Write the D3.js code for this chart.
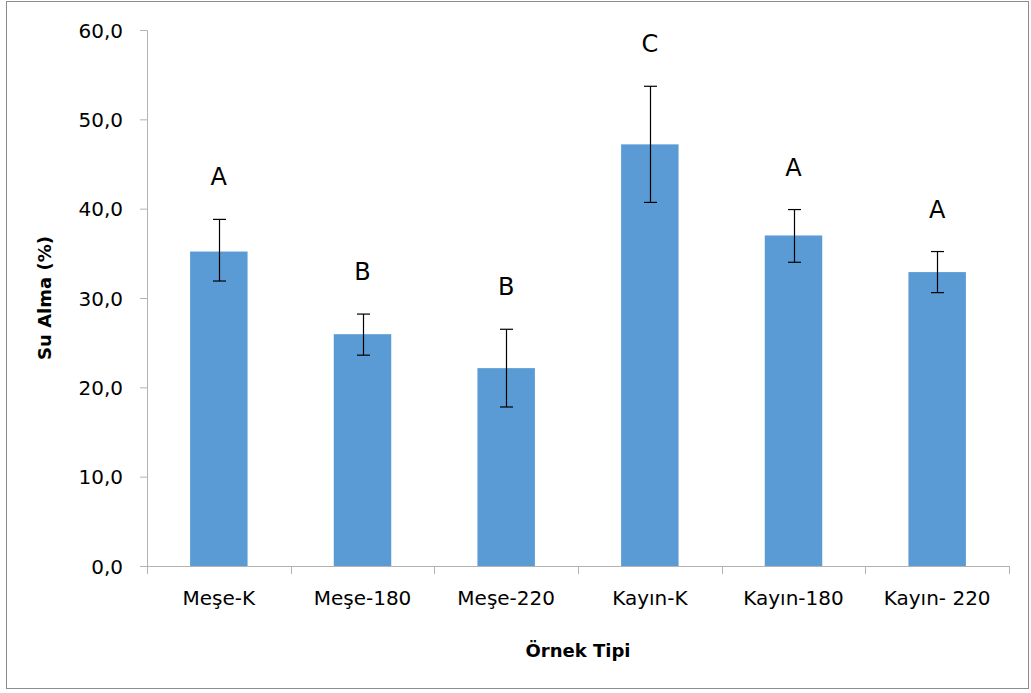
<!DOCTYPE html>
<html>
<head>
<meta charset="utf-8">
<script src="https://cdn.jsdelivr.net/npm/d3@7"></script>
<style>
  body { margin: 0; background: #fff; }
  svg text { font-family: "DejaVu Sans", sans-serif; fill: #000; }
</style>
</head>
<body>
<svg></svg>
<script>
const categories = ['Meşe-K', 'Meşe-180', 'Meşe-220', 'Kayın-K', 'Kayın-180', 'Kayın- 220'];
const values = [35.2, 25.95, 22.15, 47.2, 37.0, 32.9];
const errUp = [3.6, 2.25, 4.35, 6.5, 2.9, 2.3];
const errDown = [3.3, 2.35, 4.35, 6.5, 3.0, 2.3];
const groups = ['A', 'B', 'B', 'C', 'A', 'A'];
const yTicks = [0, 10, 20, 30, 40, 50, 60];

const SVGsize = {w: 1031, h: 693};
const margins = {t: 30, r: 22, b: 127, l: 147};
const size = {
    w: SVGsize.w - margins.l - margins.r,
    h: SVGsize.h - margins.t - margins.b
};

const svg = d3.select('svg')
    .attr('width', SVGsize.w)
    .attr('height', SVGsize.h);

// outer frame
svg.append('rect')
    .attr('x', 6.5).attr('y', 1.5)
    .attr('width', 1022).attr('height', 687)
    .attr('fill', 'none')
    .attr('stroke', '#8c8c8c');

const containerG = svg.append('g')
    .attr('transform', `translate(${margins.l}, ${margins.t})`);

const scaleY = d3.scaleLinear()
    .domain([0, 60])
    .range([size.h, 0]);

const scaleX = d3.scaleBand()
    .domain(categories)
    .range([0, size.w])
    .paddingInner(0.6)
    .paddingOuter(0.3);

// y axis
const axisY = d3.axisLeft(scaleY)
    .tickValues(yTicks)
    .tickSize(7)
    .tickPadding(17)
    .tickFormat(d => d.toFixed(1).replace('.', ','));
const axisYG = containerG.append('g')
    .classed('axis-y', true)
    .call(axisY);
axisYG.selectAll('path, line').attr('stroke', '#b3b3b3');
axisYG.select('path').attr('d', `M-7,0.5H0.5V${size.h}`);
axisYG.selectAll('text')
    .style('font-size', '20px')
    .attr('dy', '0.36em');

// x axis
const axisX = d3.axisBottom(scaleX).tickSize(0).tickPadding(25);
const axisXG = containerG.append('g')
    .classed('axis-x', true)
    .attr('transform', `translate(0, ${size.h})`)
    .call(axisX);
axisXG.select('path').attr('stroke', '#b3b3b3').attr('d', `M0.5,0.5H${size.w + 0.5}`);
axisXG.selectAll('text').style('font-size', '20px');

const bounds = d3.range(categories.length + 1).map(i => i * scaleX.step());
axisXG.selectAll('line.bound')
    .data(bounds)
    .enter()
    .append('line')
    .classed('bound', true)
    .attr('x1', d => Math.round(d) + 0.5)
    .attr('x2', d => Math.round(d) + 0.5)
    .attr('y1', 0)
    .attr('y2', 8)
    .attr('stroke', '#b3b3b3');

// bars
const data = categories.map((c, i) => ({
    cat: c, v: values[i], up: values[i] + errUp[i], down: values[i] - errDown[i], g: groups[i]
}));

containerG.selectAll('rect.bar')
    .data(data)
    .enter()
    .append('rect')
    .classed('bar', true)
    .attr('x', d => scaleX(d.cat))
    .attr('width', scaleX.bandwidth())
    .attr('y', d => scaleY(d.v))
    .attr('height', d => size.h - scaleY(d.v))
    .attr('fill', '#5b9bd5');

// error bars
const errG = containerG.selectAll('g.err')
    .data(data)
    .enter()
    .append('g')
    .classed('err', true)
    .attr('transform', d => `translate(${Math.round(scaleX(d.cat) + scaleX.bandwidth() / 2) + 0.5}, 0)`)
    .attr('stroke', '#000')
    .attr('stroke-width', 1.2);
errG.append('line')
    .attr('y1', d => scaleY(d.up)).attr('y2', d => scaleY(d.down));
errG.append('line')
    .attr('x1', -6.5).attr('x2', 6.5)
    .attr('y1', d => scaleY(d.up)).attr('y2', d => scaleY(d.up));
errG.append('line')
    .attr('x1', -6.5).attr('x2', 6.5)
    .attr('y1', d => scaleY(d.down)).attr('y2', d => scaleY(d.down));

// group letters
containerG.selectAll('text.grp')
    .data(data)
    .enter()
    .append('text')
    .classed('grp', true)
    .attr('x', d => scaleX(d.cat) + scaleX.bandwidth() / 2)
    .attr('y', d => scaleY(d.up) - 34)
    .attr('text-anchor', 'middle')
    .style('font-size', '24px')
    .text(d => d.g);

// axis titles
svg.append('text')
    .attr('transform', `translate(51, ${margins.t + size.h / 2}) rotate(-90)`)
    .attr('text-anchor', 'middle')
    .style('font-size', '18px')
    .style('font-weight', 'bold')
    .text('Su Alma (%)');

svg.append('text')
    .attr('x', margins.l + size.w / 2)
    .attr('y', 657)
    .attr('text-anchor', 'middle')
    .style('font-size', '18px')
    .style('font-weight', 'bold')
    .text('Örnek Tipi');
</script>
</body>
</html>
